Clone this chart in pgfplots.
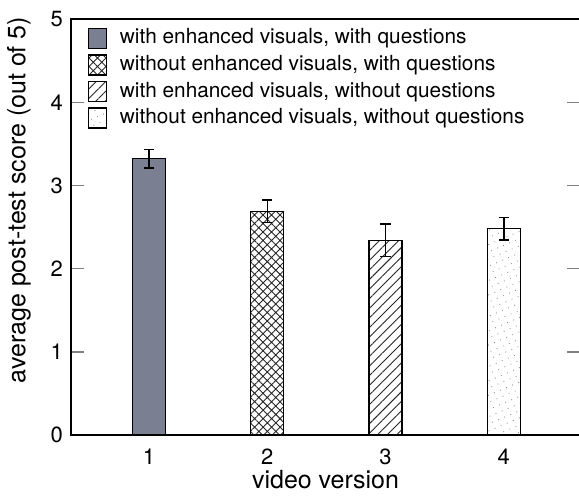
\documentclass[border=0pt]{standalone}
\usepackage{fontspec}
\setmainfont{TeX Gyre Heros}
\usepackage{pgfplots}
\pgfplotsset{compat=1.18}
\usetikzlibrary{patterns,patterns.meta}
\definecolor{barblue}{RGB}{122,127,145}
\begin{document}
\begin{tikzpicture}
\begin{axis}[
  scale only axis,
  width=254.5pt, height=208pt,
  xmin=0.341, xmax=4.644,
  ymin=0, ymax=5,
  xtick={1,2,3,4},
  ytick={0,1,2,3,4,5},
  x tick style={draw=none},
  y tick style={line width=0.7pt},
  tick align=inside,
  major tick length=6.5pt,
  xtick pos=bottom,
  ytick pos=both,
  axis line style={line width=0.7pt},
  /pgf/number format/assume math mode=true,
  tick label style={font=\fontsize{11}{12}\selectfont},
  yticklabel style={xshift=-0.5pt},
  xticklabel style={yshift=3pt},
  label style={font=\fontsize{12.5}{14}\selectfont},
  xlabel={video version},
  ylabel={average post-test score (out of 5)},
  xlabel style={yshift=4pt},
  ylabel style={at={([xshift=-16.5pt]rel axis cs:0,0.565)}, anchor=south},
  ybar, bar width=16.5pt, bar shift=0pt,
  error bars/y dir=both, error bars/y explicit,
  error bars/error bar style={line width=0.7pt, black},
  error bars/error mark options={rotate=90, mark size=2.6pt, line width=0.7pt, black},
  legend image code/.code={\draw[#1,line width=0.7pt] (0pt,-5pt) rectangle (9pt,5pt);},
  legend style={draw=none, fill=none, at={(0.020,0.990)}, anchor=north west,
    font=\fontsize{10.4}{12}\selectfont, row sep=2.6pt,
    nodes={inner sep=0pt, inner xsep=3pt, text height=8pt, text depth=2.4pt},
    /tikz/column 1/.style={column sep=3.5pt}},
  legend cell align=left,
]
\addplot[draw=black, line width=0.7pt, fill=barblue] coordinates {(1,3.32) +- (0,0.11)};
\addlegendentry{with enhanced visuals, with questions}
\addplot[draw=black, line width=0.7pt, pattern={Hatch[angle=45,distance=3pt,line width=0.45pt]}, pattern color=black!85] coordinates {(2,2.69) +- (0,0.135)};
\addlegendentry{without enhanced visuals, with questions}
\addplot[draw=black, line width=0.7pt, pattern={Lines[angle=45,distance=3.4pt,line width=0.45pt]}, pattern color=black!85] coordinates {(3,2.34) +- (0,0.195)};
\addlegendentry{with enhanced visuals, without questions}
\addplot[draw=black, line width=0.7pt, pattern={Dots[angle=23,distance=3.3pt,radius=0.3pt]}, pattern color=black!45] coordinates {(4,2.48) +- (0,0.135)};
\addlegendentry{without enhanced visuals, without questions}
\end{axis}
\pgfresetboundingbox
\path[use as bounding box] ([shift={(-35.5pt,-30pt)}]current axis.south west) rectangle ([shift={(254pt,217.5pt)}]current axis.south west);
\end{tikzpicture}
\end{document}
